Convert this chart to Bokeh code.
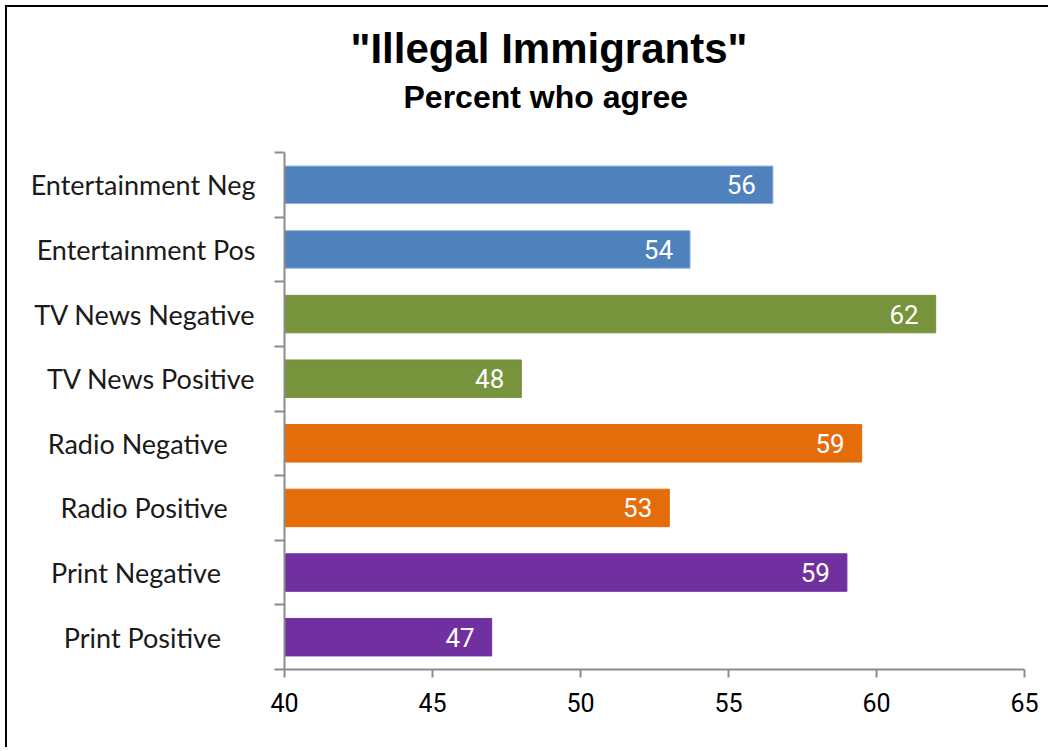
from bokeh.plotting import figure
from bokeh.models import ColumnDataSource, Range1d, FixedTicker, LabelSet, Title
from bokeh.core.properties import value
from bokeh.embed import file_html
from bokeh.resources import INLINE

# ---- data ----
categories = ["Entertainment Neg", "Entertainment Pos", "TV News Negative", "TV News Positive",
              "Radio Negative", "Radio Positive", "Print Negative", "Print Positive"]
values = [56.5, 53.7, 62.0, 48.0, 59.5, 53.0, 59.0, 47.0]
value_labels = ["56", "54", "62", "48", "59", "53", "59", "47"]
x_ticks = [40, 45, 50, 55, 60, 65]
title_text = '"Illegal Immigrants"'
subtitle_text = "Percent who agree"

# ---- styles ----
fill_colors = ["#4F81BD", "#4F81BD", "#77933C", "#77933C", "#E46C0A", "#E46C0A", "#7030A0", "#7030A0"]
edge_colors = ["#8EB1E0", "#8EB1E0", "#77933C", "#77933C", "#E46C0A", "#E46C0A", "#7030A0", "#7030A0"]
label_pad = [0, 0, 0, 0, 4, 4, 5, 5]   # trailing spaces in the source labels

n = len(categories)
x_min, x_max = x_ticks[0], x_ticks[-1]
ypos = [n - i - 0.5 for i in range(n)]
bounds = list(range(n + 1))

src = ColumnDataSource(dict(
    y=ypos, value=values, vlabel=value_labels,
    fill=fill_colors, edge=edge_colors, base=[x_min] * n,
))

p = figure(width=1043, height=742, x_range=Range1d(x_min, x_max), y_range=Range1d(0, n),
           output_backend="svg", toolbar_location=None,
           min_border_left=277, min_border_right=26, min_border_top=145, min_border_bottom=80)
p.styles = {"margin-left": "5px", "margin-top": "5px",
            "border-top": "2px solid black", "border-left": "2px solid black"}
p.outline_line_color = None
p.xgrid.visible = False
p.ygrid.visible = False
p.background_fill_color = "white"
p.border_fill_color = "white"

p.hbar(y="y", left="base", right="value", height=0.58, fill_color="fill",
       line_color="edge", line_width=1, source=src)

axis_color = "#8C8C8C"
num_font = "Roboto"

xa = p.xaxis[0]
xa.ticker = FixedTicker(ticks=x_ticks)
xa.axis_line_color = axis_color
xa.axis_line_width = 2
xa.major_tick_line_color = axis_color
xa.major_tick_line_width = 2
xa.major_tick_out = 8
xa.major_tick_in = 0
xa.minor_tick_line_color = None
xa.major_label_text_font = num_font
xa.major_label_text_font_size = "25px"
xa.major_label_text_color = "#000000"
xa.major_label_standoff = 15

ya = p.yaxis[0]
ya.ticker = FixedTicker(ticks=ypos, minor_ticks=bounds)
ya.major_label_overrides = {y: c + "\u00a0" * k for y, c, k in zip(ypos, categories, label_pad)}
ya.axis_line_color = axis_color
ya.axis_line_width = 2
ya.major_tick_line_color = None
ya.major_tick_out = 0
ya.major_tick_in = 0
ya.minor_tick_line_color = axis_color
ya.minor_tick_line_width = 2
ya.minor_tick_out = 10
ya.minor_tick_in = 0
ya.major_label_standoff = 19
ya.major_label_text_font = "Lato"
ya.major_label_text_font_size = "27px"
ya.major_label_text_color = "#1a1a1a"

p.add_layout(LabelSet(x="value", y="y", text="vlabel", x_offset=-17, source=src,
                      text_align="right", text_baseline="middle",
                      text_font=value(num_font), text_font_size=value("26px"),
                      text_color=value("white")))

p.add_layout(Title(text=subtitle_text, align="left", offset=119, standoff=75,
                   text_font="Liberation Sans", text_font_style="bold",
                   text_font_size="32px", text_color="black"), "above")
p.add_layout(Title(text=title_text, align="left", offset=66, standoff=-65,
                   text_font="Liberation Sans", text_font_style="bold",
                   text_font_size="42px", text_color="black"), "above")

open("out.html", "w").write(file_html(p, INLINE))
